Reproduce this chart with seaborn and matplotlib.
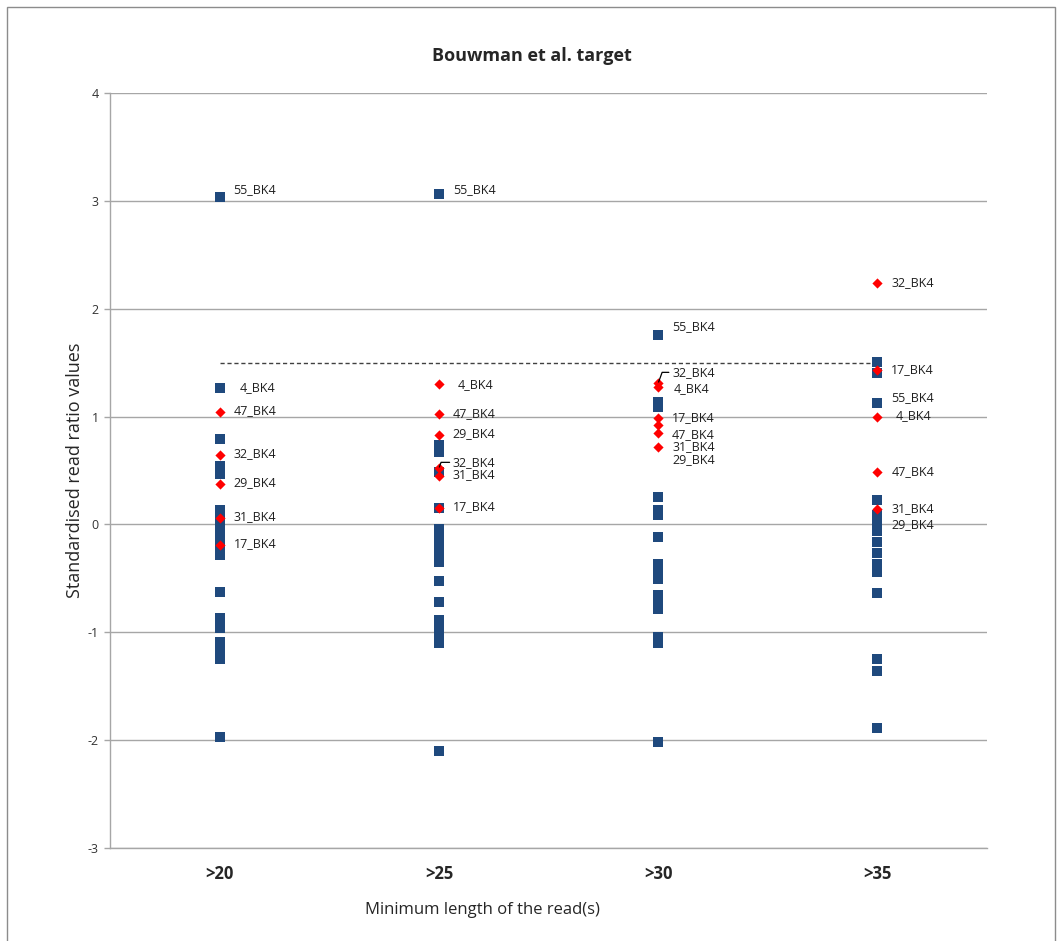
import pandas as pd
import matplotlib.pyplot as plt
import seaborn as sns
from matplotlib.patches import Rectangle

# Categories (minimum read length)
lengths = ['>20', '>25', '>30', '>35']

# Blue squares: all samples, one list per category
blue_20 = [3.04, 1.265, 0.79, 0.54, 0.47, 0.136, 0.047, -0.04, -0.13, -0.21, -0.28,
           -0.63, -0.87, -0.96, -1.09, -1.165, -1.25, -1.97]
blue_25 = [3.06, 0.733, 0.67, 0.486, 0.15, -0.04, -0.12, -0.19, -0.27, -0.30, -0.35,
           -0.525, -0.72, -0.886, -0.979, -1.07, -1.10, -2.098]
blue_30 = [1.756, 1.135, 1.09, 0.251, 0.133, 0.087, -0.114, -0.367, -0.44, -0.51,
           -0.655, -0.73, -0.78, -1.044, -1.10, -2.02]
blue_35 = [1.505, 1.40, 1.123, 0.226, 0.087, 0.013, -0.01, -0.06, -0.163, -0.265,
           -0.367, -0.44, -0.64, -1.25, -1.36, -1.89]

# Red diamonds: highlighted samples
red_20 = [1.045, 0.646, 0.375, 0.062, -0.19]
red_25 = [1.30, 1.023, 0.829, 0.52, 0.45, 0.155]
red_30 = [1.308, 1.27, 0.983, 0.92, 0.85, 0.72]
red_35 = [2.235, 1.43, 0.993, 0.483, 0.14]

# Point labels
lab_cat = ['>20'] * 7 + ['>25'] * 7 + ['>30'] * 7 + ['>35'] * 7
lab_name = ['55_BK4', '4_BK4', '47_BK4', '32_BK4', '29_BK4', '31_BK4', '17_BK4',
            '55_BK4', '4_BK4', '47_BK4', '29_BK4', '32_BK4', '31_BK4', '17_BK4',
            '55_BK4', '32_BK4', '4_BK4', '17_BK4', '47_BK4', '31_BK4', '29_BK4',
            '32_BK4', '17_BK4', '55_BK4', '4_BK4', '47_BK4', '31_BK4', '29_BK4']
lab_val = [3.04, 1.265, 1.045, 0.646, 0.375, 0.062, -0.19,
           3.06, 1.30, 1.023, 0.829, 0.52, 0.45, 0.155,
           1.756, 1.308, 1.27, 0.983, 0.92, 0.85, 0.72,
           2.235, 1.43, 1.123, 0.993, 0.483, 0.14, -0.01]

threshold = 1.5

# label nudges (pixels: dx, dy) for crowded labels
nudge = {('>20', '55_BK4'): (0, 7), ('>25', '55_BK4'): (0, 5),
         ('>30', '55_BK4'): (0, 8), ('>35', '55_BK4'): (0, 6),
         ('>20', '4_BK4'): (6, 0), ('>25', '4_BK4'): (5, 0),
         ('>30', '4_BK4'): (2, -1), ('>35', '4_BK4'): (4, 2),
         ('>25', '32_BK4'): (0, 6), ('>30', '32_BK4'): (0, 11),
         ('>30', '47_BK4'): (0, -9), ('>30', '31_BK4'): (0, -14),
         ('>30', '29_BK4'): (0, -13)}
leader = [('>25', '32_BK4'), ('>30', '32_BK4')]

rows = []
for cat, b, r in zip(lengths, [blue_20, blue_25, blue_30, blue_35],
                     [red_20, red_25, red_30, red_35]):
    rows += [(cat, v, 'all') for v in b]
    rows += [(cat, v, 'highlight') for v in r]
df = pd.DataFrame(rows, columns=['length', 'value', 'kind'])

sns.set_style('white')
plt.rcParams['font.family'] = ['Open Sans', 'DejaVu Sans']
plt.rcParams['axes.unicode_minus'] = False

fig = plt.figure(figsize=(10.59, 9.41), dpi=100)
ax = fig.add_axes([110 / 1059, 1 - 848 / 941, 877 / 1059, 755 / 941])

sns.stripplot(data=df[df.kind == 'all'], x='length', y='value', order=lengths,
              jitter=False, marker='s', size=7.2, color='#1F497D', linewidth=0,
              ax=ax, zorder=3)
sns.stripplot(data=df[df.kind == 'highlight'], x='length', y='value', order=lengths,
              jitter=False, marker='D', size=5.2, color='#FF0000', linewidth=0,
              ax=ax, zorder=4)

ax.hlines(threshold, 0, len(lengths) - 1, colors='#404040', linestyles=(0, (3, 2)),
          lw=1, zorder=2)

px = 0.72  # points per pixel
for cat, name, val in zip(lab_cat, lab_name, lab_val):
    dx, dy = nudge.get((cat, name), (0, 1))
    if (cat, name) in leader:
        ax.annotate(name, (lengths.index(cat), val),
                    xytext=((14 + dx) * px, dy * px), textcoords='offset points',
                    ha='left', va='center', fontsize=9, color='#202020', zorder=5,
                    arrowprops=dict(arrowstyle='-', color='black', lw=0.9,
                                    shrinkA=0, shrinkB=1,
                                    connectionstyle='angle,angleA=0,angleB=70,rad=0'))
    else:
        ax.annotate(name, (lengths.index(cat), val),
                    xytext=((14 + dx) * px, dy * px), textcoords='offset points',
                    ha='left', va='center', fontsize=9, color='#202020', zorder=5)

ax.set_ylim(-3, 4)
ax.set_xlim(-0.5, len(lengths) - 0.5)
ax.set_yticks(range(-3, 5))
ax.yaxis.grid(True, color='#A6A6A6', lw=1)
ax.set_axisbelow(True)
for s in ['top', 'right']:
    ax.spines[s].set_visible(False)
for s in ['left', 'bottom']:
    ax.spines[s].set_color('#A6A6A6')
    ax.spines[s].set_linewidth(1)
ax.tick_params(axis='y', which='both', left=True, length=4, color='#A6A6A6',
               width=1, pad=4, labelsize=9, labelcolor='#333333')
ax.tick_params(axis='x', bottom=False, pad=9)
for t in ax.get_xticklabels():
    t.set_fontweight('bold')
    t.set_fontsize(12)
ax.set_xlabel('')
ax.set_ylabel('Standardised read ratio values', fontsize=13, labelpad=3)

fig.text(532 / 1059, 1 - 56 / 941, 'Bouwman et al. target', ha='center', va='center',
         fontsize=13, fontweight='bold')
fig.text(482 / 1059, 1 - 910 / 941, 'Minimum length of the read(s)', ha='center',
         va='center', fontsize=12)

# outer chart frame
fig.patches.append(Rectangle((7 / 1059, -0.05), 1048 / 1059, 1 - 7 / 941 + 0.05,
                             transform=fig.transFigure, fill=False,
                             edgecolor='#8C8C8C', lw=1))

plt.savefig('out.png', dpi=100)
